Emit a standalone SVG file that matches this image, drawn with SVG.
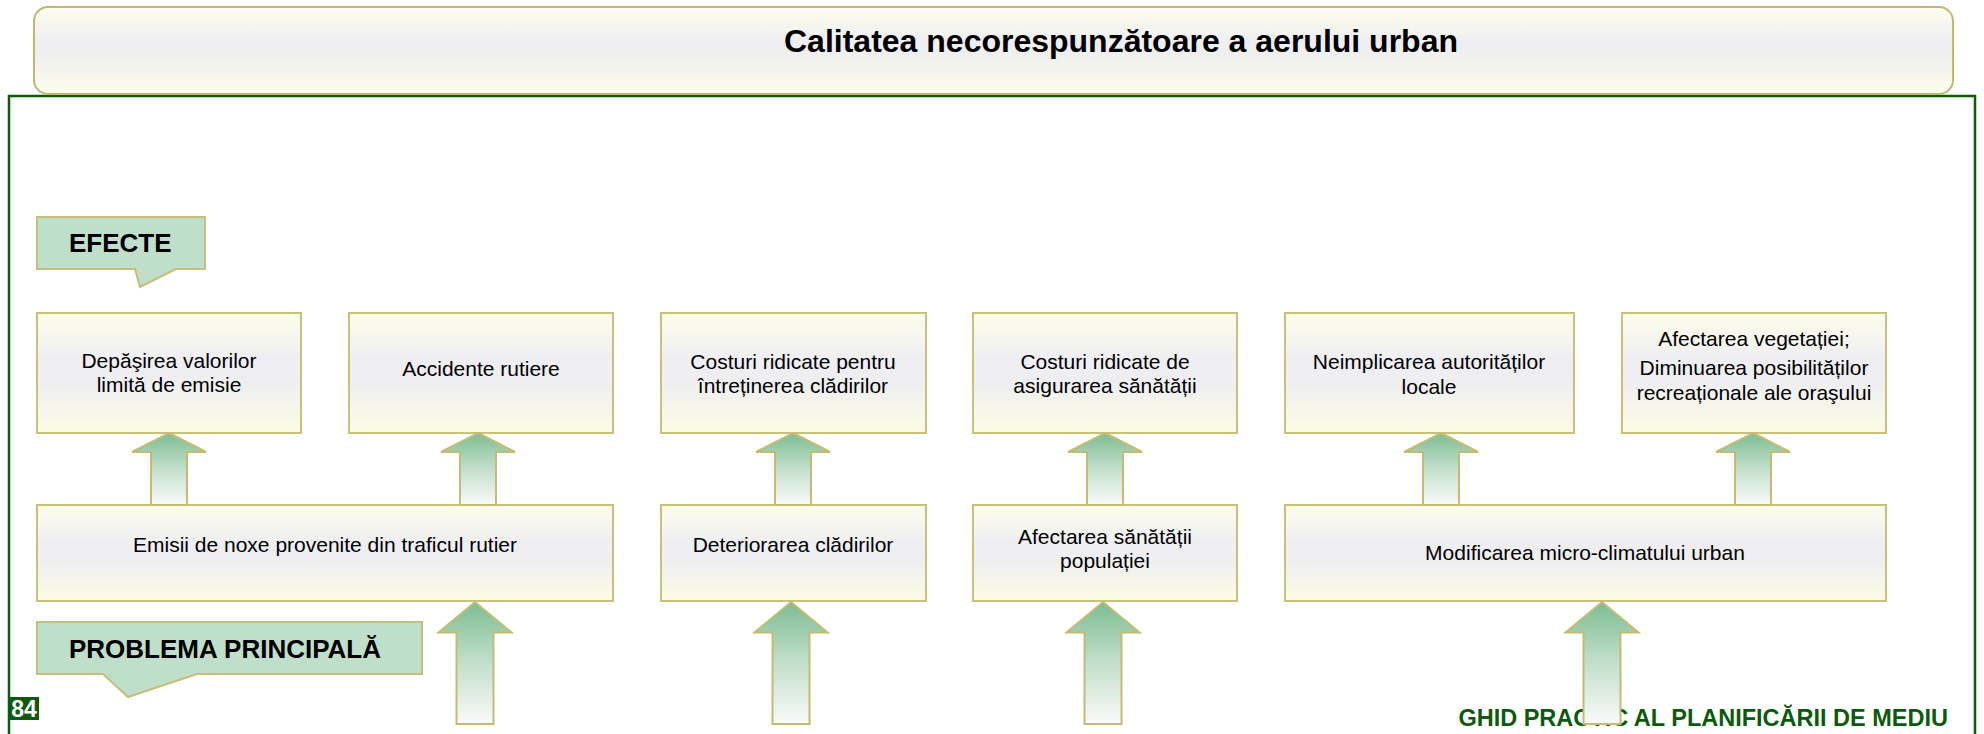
<svg xmlns="http://www.w3.org/2000/svg" width="1984" height="734" viewBox="0 0 1984 734">
<defs>
<linearGradient id="boxGrad" x1="0" y1="0" x2="0" y2="1">
<stop offset="0" stop-color="#fdfdea"/>
<stop offset="0.4" stop-color="#eeeef3"/>
<stop offset="0.6" stop-color="#efeff1"/>
<stop offset="1" stop-color="#fcfce4"/>
</linearGradient>
<linearGradient id="titleGrad" x1="0" y1="0" x2="0" y2="1">
<stop offset="0" stop-color="#fefeee"/>
<stop offset="0.4" stop-color="#eeeef2"/>
<stop offset="0.6" stop-color="#f0f0ef"/>
<stop offset="1" stop-color="#fefeec"/>
</linearGradient>
<linearGradient id="arrowGrad" x1="0" y1="0" x2="0" y2="1">
<stop offset="0" stop-color="#7cbd93"/>
<stop offset="0.5" stop-color="#c3dfcb"/>
<stop offset="1" stop-color="#fafafa"/>
</linearGradient>
<style>
.box{fill:url(#boxGrad);stroke:#c8c07b;stroke-width:2}
.arrow{fill:url(#arrowGrad);stroke:#c4bc74;stroke-width:2;stroke-linejoin:miter}
.callout{fill:#bfdfcb;stroke:#c6be7a;stroke-width:2}
.t{font-family:"Liberation Sans",Arial,sans-serif;font-size:21px;fill:#000;text-anchor:middle}
.lbl{font-family:"Liberation Sans",Arial,sans-serif;font-size:26px;font-weight:bold;fill:#000}
</style>
</defs>
<rect x="0" y="0" width="1984" height="734" fill="#ffffff"/>
<g id="frame">
<rect x="9" y="96" width="1966" height="700" fill="none" stroke="#0b5d0b" stroke-width="2.5"/>
</g>
<g id="title">
<rect x="34" y="7" width="1919" height="87" rx="14" ry="14" fill="url(#titleGrad)" stroke="#bdb874" stroke-width="2"/>
<text x="1121" y="52" font-family="'Liberation Sans',Arial,sans-serif" font-size="32" font-weight="bold" text-anchor="middle" fill="#000">Calitatea necorespunzătoare a aerului urban</text>
</g>
<g id="footer">
<text x="1948" y="726" font-family="'Liberation Sans',Arial,sans-serif" font-size="23.5" font-weight="bold" text-anchor="end" fill="#0d5a0d">GHID PRACTIC AL PLANIFICĂRII DE MEDIU</text>
</g>
<g id="page-number">
<rect x="9" y="697" width="30" height="23" fill="#0d5a0d"/>
<text x="24" y="717" font-family="'Liberation Sans',Arial,sans-serif" font-size="23" font-weight="bold" text-anchor="middle" fill="#ffffff">84</text>
</g>
<g id="label-efecte">
<path class="callout" d="M37,217 H205 V269 H176 L140,287 L135,269 H37 Z"/>
<text class="lbl" x="69" y="252">EFECTE</text>
</g>
<g id="label-problema">
<path class="callout" d="M37,622 H422 V674 H197 L128,697 L103,674 H37 Z"/>
<text class="lbl" x="69" y="658">PROBLEMA PRINCIPALĂ</text>
</g>
<g id="effect-1">
<rect class="box" x="37" y="313" width="264" height="120"/>
<text class="t" x="169" y="368">Depăşirea valorilor</text>
<text class="t" x="169" y="392">limită de emisie</text>
</g>
<g id="effect-2">
<rect class="box" x="349" y="313" width="264" height="120"/>
<text class="t" x="481" y="376">Accidente rutiere</text>
</g>
<g id="effect-3">
<rect class="box" x="661" y="313" width="265" height="120"/>
<text class="t" x="793" y="369">Costuri ridicate pentru</text>
<text class="t" x="793" y="393">întreținerea clădirilor</text>
</g>
<g id="effect-4">
<rect class="box" x="973" y="313" width="264" height="120"/>
<text class="t" x="1105" y="369">Costuri ridicate de</text>
<text class="t" x="1105" y="393">asigurarea sănătății</text>
</g>
<g id="effect-5">
<rect class="box" x="1285" y="313" width="289" height="120"/>
<text class="t" x="1429" y="369">Neimplicarea autorităților</text>
<text class="t" x="1429" y="394">locale</text>
</g>
<g id="effect-6">
<rect class="box" x="1622" y="313" width="264" height="120"/>
<text class="t" x="1754" y="346">Afectarea vegetației;</text>
<text class="t" x="1754" y="375">Diminuarea posibilităților</text>
<text class="t" x="1754" y="400">recreaționale ale oraşului</text>
</g>
<g id="cause-1">
<rect class="box" x="37" y="505" width="576" height="96"/>
<text class="t" x="325" y="552">Emisii de noxe provenite din traficul rutier</text>
</g>
<g id="cause-2">
<rect class="box" x="661" y="505" width="265" height="96"/>
<text class="t" x="793" y="552">Deteriorarea clădirilor</text>
</g>
<g id="cause-3">
<rect class="box" x="973" y="505" width="264" height="96"/>
<text class="t" x="1105" y="544">Afectarea sănătății</text>
<text class="t" x="1105" y="568">populației</text>
</g>
<g id="cause-4">
<rect class="box" x="1285" y="505" width="601" height="96"/>
<text class="t" x="1585" y="560">Modificarea micro-climatului urban</text>
</g>
<g id="connectors">
<path class="arrow" d="M169,433 L206,452 H187 V505 H151 V452 H132 Z"/>
<path class="arrow" d="M478,433 L515,452 H496 V505 H460 V452 H441 Z"/>
<path class="arrow" d="M793,433 L830,452 H811 V505 H775 V452 H756 Z"/>
<path class="arrow" d="M1105,433 L1142,452 H1123 V505 H1087 V452 H1068 Z"/>
<path class="arrow" d="M1441,433 L1478,452 H1459 V505 H1423 V452 H1404 Z"/>
<path class="arrow" d="M1753,433 L1790,452 H1771 V505 H1735 V452 H1716 Z"/>
<path class="arrow" d="M475,602 L511.5,632.5 H493.5 V724 H456.5 V632.5 H438.5 Z"/>
<path class="arrow" d="M791,602 L827.5,632.5 H809.5 V724 H772.5 V632.5 H754.5 Z"/>
<path class="arrow" d="M1103,602 L1139.5,632.5 H1121.5 V724 H1084.5 V632.5 H1066.5 Z"/>
<path class="arrow" d="M1602,602 L1638.5,632.5 H1620.5 V724 H1583.5 V632.5 H1565.5 Z"/>
</g>
</svg>
